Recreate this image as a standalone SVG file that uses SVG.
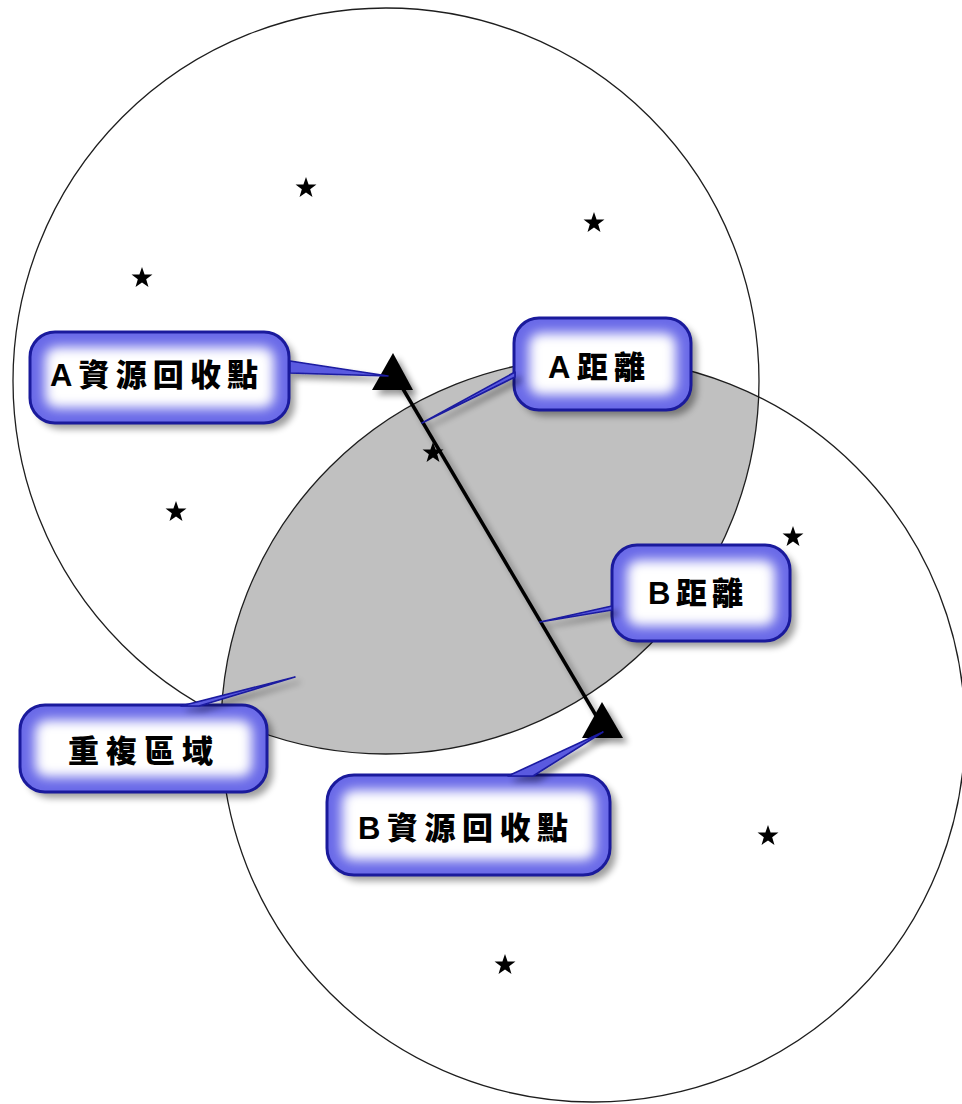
<svg xmlns="http://www.w3.org/2000/svg" width="962" height="1104" viewBox="0 0 962 1104">
  <style>
    .ring { fill: none; stroke: #1e1e1e; stroke-width: 1.3; }
    .lens { fill: #c0c0c0; }
    .star { fill: #000; }
    .tri { fill: #000; }
    .link { stroke: #000; stroke-width: 3.5; fill: none; }
    .tail { fill: #5a5ae0; stroke: #1a1aa0; stroke-width: 1.6; stroke-linejoin: round; }
    .shade { fill: #000; opacity: 0.38; }
    .base { fill: #6a6ae8; }
    .glow { fill: #ffffff; }
    .edge { fill: none; stroke: #1a1a9c; stroke-width: 3; }
    .label { font-family: "Liberation Sans", "Noto Sans CJK TC", sans-serif; font-weight: 900; font-size: 31px; fill: #000; }
  </style>
  <defs>
    <path id="star" d="M0,-11 L2.59,-3.56 L10.46,-3.4 L4.18,1.36 L6.47,8.9 L0,4.4 L-6.47,8.9 L-4.18,1.36 L-10.46,-3.4 L-2.59,-3.56 Z"/>
    <clipPath id="clipA">
      <circle cx="386" cy="381" r="373"/>
    </clipPath>
    <filter id="drop" filterUnits="userSpaceOnUse" x="0" y="0" width="962" height="1104">
      <feGaussianBlur in="SourceAlpha" stdDeviation="3"/>
      <feOffset dx="5" dy="5"/>
      <feComponentTransfer><feFuncA type="linear" slope="0.4"/></feComponentTransfer>
      <feMerge><feMergeNode/><feMergeNode in="SourceGraphic"/></feMerge>
    </filter>
    <filter id="soft" filterUnits="userSpaceOnUse" x="0" y="0" width="962" height="1104">
      <feGaussianBlur stdDeviation="6"/>
    </filter>
    <filter id="blur3" filterUnits="userSpaceOnUse" x="0" y="0" width="962" height="1104">
      <feGaussianBlur stdDeviation="3.5"/>
    </filter>
  </defs>

  <rect x="0" y="0" width="962" height="1104" fill="#fff"/>

  <!-- two coverage circles and their overlap -->
  <g id="coverage">
    <circle class="lens" cx="593" cy="730" r="372" clip-path="url(#clipA)"/>
    <circle class="ring" cx="386" cy="381" r="373"/>
    <circle class="ring" cx="593" cy="730" r="372"/>
  </g>

  <!-- scattered stars -->
  <g id="stars">
    <use href="#star" class="star" x="306" y="188"/>
    <use href="#star" class="star" x="594" y="223"/>
    <use href="#star" class="star" x="142" y="278"/>
    <use href="#star" class="star" x="176" y="512"/>
    <use href="#star" class="star" x="433" y="453"/>
    <use href="#star" class="star" x="793" y="537"/>
    <use href="#star" class="star" x="768" y="836"/>
    <use href="#star" class="star" x="505" y="965"/>
  </g>

  <!-- resource points -->
  <g id="point-a" filter="url(#drop)">
    <polygon class="tri" points="393,353 413,390 372,390"/>
  </g>
  <g id="point-b" filter="url(#drop)">
    <polygon class="tri" points="602,702 623,738 582,738"/>
  </g>

  <!-- callout boxes -->
  <g id="box-a-point">
    <rect class="shade" x="36" y="338" width="259" height="91" rx="25" filter="url(#blur3)"/>
    <rect class="base" x="30" y="332" width="259" height="91" rx="25"/>
    <rect class="glow" x="45" y="347" width="229" height="61" rx="12" filter="url(#soft)"/>
    <rect class="edge" x="30" y="332" width="259" height="91" rx="25"/>
    <text class="label" x="50" y="386" textLength="208" lengthAdjust="spacing">A資源回收點</text>
  </g>
  <g id="box-a-distance">
    <rect class="shade" x="520" y="324" width="177" height="92" rx="25" filter="url(#blur3)"/>
    <rect class="base" x="514" y="318" width="177" height="92" rx="25"/>
    <rect class="glow" x="529" y="333" width="147" height="62" rx="12" filter="url(#soft)"/>
    <rect class="edge" x="514" y="318" width="177" height="92" rx="25"/>
    <text class="label" x="548" y="378" textLength="97" lengthAdjust="spacing">A距離</text>
  </g>
  <g id="box-b-distance">
    <rect class="shade" x="618" y="551" width="178" height="96" rx="25" filter="url(#blur3)"/>
    <rect class="base" x="612" y="545" width="178" height="96" rx="25"/>
    <rect class="glow" x="627" y="560" width="148" height="66" rx="12" filter="url(#soft)"/>
    <rect class="edge" x="612" y="545" width="178" height="96" rx="25"/>
    <text class="label" x="648" y="604" textLength="95" lengthAdjust="spacing">B距離</text>
  </g>
  <g id="box-overlap">
    <rect class="shade" x="26" y="711" width="247" height="87" rx="25" filter="url(#blur3)"/>
    <rect class="base" x="20" y="705" width="247" height="87" rx="25"/>
    <rect class="glow" x="35" y="720" width="217" height="57" rx="12" filter="url(#soft)"/>
    <rect class="edge" x="20" y="705" width="247" height="87" rx="25"/>
    <text class="label" x="68" y="762" textLength="145" lengthAdjust="spacing">重複區域</text>
  </g>
  <g id="box-b-point">
    <rect class="shade" x="333" y="781" width="283" height="100" rx="27" filter="url(#blur3)"/>
    <rect class="base" x="327" y="775" width="283" height="100" rx="27"/>
    <rect class="glow" x="342" y="790" width="253" height="70" rx="12" filter="url(#soft)"/>
    <rect class="edge" x="327" y="775" width="283" height="100" rx="27"/>
    <text class="label" x="358" y="839" textLength="210" lengthAdjust="spacing">B資源回收點</text>
  </g>

  <!-- distance line and callout pointers -->
  <g id="connectors" filter="url(#drop)">
    <line class="link" x1="393" y1="372" x2="601" y2="724"/>
    <polygon class="tail" points="290,361 388,376 290,373"/>
    <polygon class="tail" points="515,372 422,423 515,377"/>
    <polygon class="tail" points="612,606 540,622 612,610"/>
    <polygon class="tail" points="181,706 295,677 199,706"/>
    <polygon class="tail" points="508,776 603,732 533,776"/>
  </g>
</svg>
